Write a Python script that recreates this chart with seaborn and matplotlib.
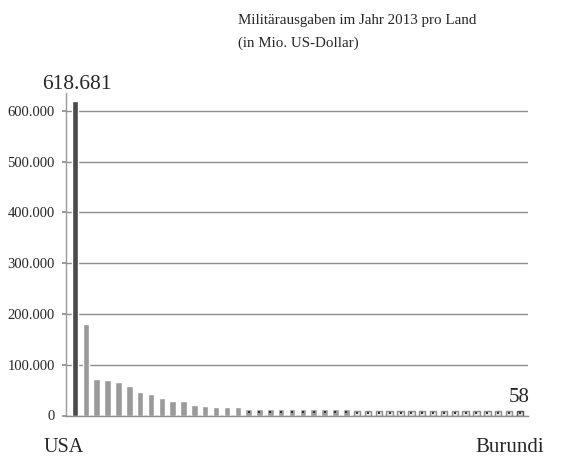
import matplotlib
matplotlib.use("Agg")
import matplotlib.pyplot as plt
import seaborn as sns
import pandas as pd

countries = ["USA"] + [f"Land {i}" for i in range(2, 42)] + ["Burundi"]
values = [618681, 181000, 72000, 70000, 66500, 59000, 46000, 42000, 34000,
          28500, 28000, 20000, 18000, 16500, 16500, 16500] + [13000] * 10 + [9000] * 15 + [9000]
yticks = [0, 100000, 200000, 300000, 400000, 500000, 600000]
ytick_labels = ["0", "100.000", "200.000", "300.000", "400.000", "500.000", "600.000"]
first_label = "618.681"
last_label = "58"
title = "Militärausgaben im Jahr 2013 pro Land\n(in Mio. US-Dollar)"

sns.set_theme(style="white")
plt.rcParams["font.family"] = ["Liberation Serif", "DejaVu Serif"]

df = pd.DataFrame({"land": countries, "wert": values})
n = len(df)
colors = ["#4a4a4a"] + ["#9a9a9a"] * (n - 1)

W, H = 564, 457
fig = plt.figure(figsize=(W / 100, H / 100), dpi=100)
ax = fig.add_axes([66 / W, (H - 415.5) / H, (528 - 66) / W, (415.5 - 93) / H])

sns.barplot(data=df, x="land", y="wert", hue="land", palette=colors,
            legend=False, width=0.6, ax=ax, saturation=1)

# style tail bars
for i, p in enumerate(ax.patches):
    if 26 <= i < n - 1:
        p.set_facecolor("#e6e6e6")
        p.set_edgecolor("#8e8e8e")
        p.set_linewidth(1.0)
    elif i == n - 1:
        p.set_facecolor("#dddddd")
        p.set_edgecolor("#555555")
        p.set_linewidth(1.0)
dot_idx = list(range(16, n))
ax.scatter(dot_idx, [values[i] / 2 for i in dot_idx], s=0.6, color="#333333",
           zorder=5, marker="s", linewidths=0)

ax.set_xlim(-0.83, n - 1 + 0.75)
ax.set_ylim(0, 635000)
ax.set_yticks(yticks)
ax.set_yticklabels(ytick_labels, fontsize=10.5)
ax.set_xticks([])
ax.set_xlabel("")
ax.set_ylabel("")
ax.yaxis.grid(True, color="#8e8e8e", linewidth=1.0)
ax.set_axisbelow(True)
ax.tick_params(axis="y", length=3, color="#8e8e8e", pad=5, left=True)
for s in ["top", "right"]:
    ax.spines[s].set_visible(False)
ax.spines["left"].set_color("#9a9a9a")
ax.spines["bottom"].set_color("#8e8e8e")
ax.spines["left"].set_linewidth(1.0)
ax.spines["bottom"].set_linewidth(1.0)

ax.text(0.2, values[0] + 14000, first_label, ha="center", va="bottom", fontsize=15.5)
ax.text(n - 1.05, values[-1] + 8000, last_label, ha="center", va="bottom", fontsize=15)

fig.text(63.5 / W, 1 - 452 / H, countries[0], ha="center", va="baseline", fontsize=14.5)
fig.text(509.5 / W, 1 - 452 / H, countries[-1], ha="center", va="baseline", fontsize=15)

fig.text(238 / W, 1 - 14 / H, title, ha="left", va="top", fontsize=10.8, linespacing=1.9)

fig.savefig("out.png", dpi=100)
